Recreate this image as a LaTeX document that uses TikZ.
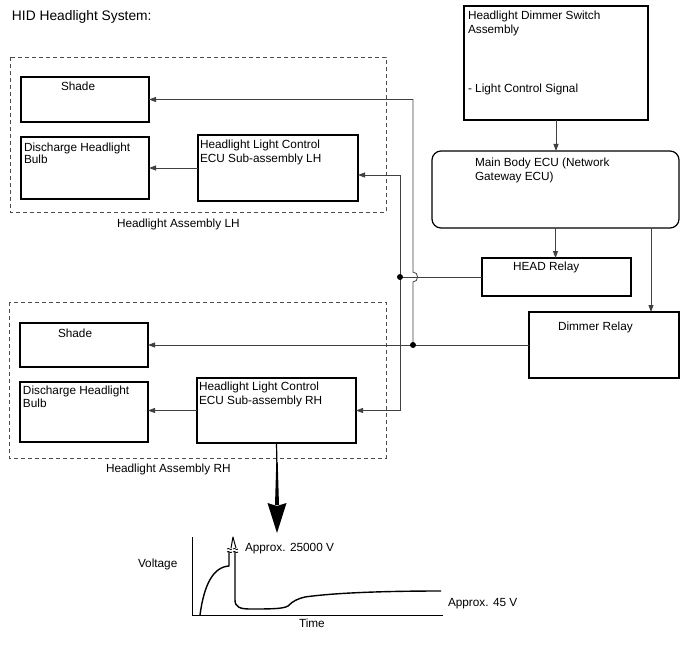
\documentclass[tikz,border=0pt]{standalone}
\usepackage{fontspec}
\setmainfont{Liberation Sans}
\usetikzlibrary{arrows.meta}
\begin{document}
\begin{tikzpicture}[x=1pt,y=-1pt,
 box/.style={draw=black, line width=1.2pt, rectangle, inner sep=0pt, outer sep=0pt, anchor=north west},
 txt/.style={inner sep=0pt, outer sep=0pt, anchor=base west, font=\fontsize{11.8}{13.5}\selectfont},
 wire/.style={draw=black!75, line width=0.8pt},
 arr/.style={wire, -{Triangle[length=7pt,width=5pt]}},
 grp/.style={draw=black!70, line width=0.8pt, dash pattern=on 4pt off 3pt},
 dot/.style={circle, fill=black, inner sep=0pt, minimum size=6pt},
 curve/.style={draw=black, line width=1.4pt, line join=round}]
\useasboundingbox (0,0) rectangle (688,658);

% title
\node[txt, font=\fontsize{13.8}{15}\selectfont] (title) at (12,20.7) {HID Headlight System:};

% group frames
\draw[grp] (10,57) rectangle (386,212);
\draw[grp] (9,302) rectangle (386,458);
\node[txt] (lhlab) at (117,227) {Headlight Assembly LH};
\node[txt] (rhlab) at (106,472) {Headlight Assembly RH};

% LH boxes
\node[box, minimum width=128pt, minimum height=45pt] (lhshade) at (21,77) {};
\node[txt] (lhshadet) at (61,91) {Shade};
\node[box, minimum width=128pt, minimum height=62pt] (lhbulb) at (21,137) {};
\node[txt] (lhbulbt1) at (24,151) {Discharge Headlight};
\node[txt] (lhbulbt2) at (24,164) {Bulb};
\node[box, minimum width=160pt, minimum height=66pt] (lhecu) at (198,135) {};
\node[txt] (lhecut1) at (200,149) {Headlight Light Control};
\node[txt] (lhecut2) at (200,163) {ECU Sub-assembly LH};

% RH boxes
\node[box, minimum width=128pt, minimum height=44pt] (rhshade) at (20,323) {};
\node[txt] (rhshadet) at (58,337) {Shade};
\node[box, minimum width=128pt, minimum height=60pt] (rhbulb) at (20,382) {};
\node[txt] (rhbulbt1) at (23,394) {Discharge Headlight};
\node[txt] (rhbulbt2) at (23,407) {Bulb};
\node[box, minimum width=159pt, minimum height=65pt] (rhecu) at (197,378) {};
\node[txt] (rhecut1) at (199,390) {Headlight Light Control};
\node[txt] (rhecut2) at (199,404) {ECU Sub-assembly RH};

% right side boxes
\node[box, minimum width=184pt, minimum height=114pt] (sw) at (464,6) {};
\node[txt] (swt1) at (468,20) {Headlight Dimmer Switch};
\node[txt] (swt2) at (468,34) {Assembly};
\node[txt] (swt3) at (468,93) {- Light Control Signal};
\node[box, rounded corners=9pt, minimum width=247pt, minimum height=77pt] (mecu) at (432,151) {};
\node[txt] (mecut1) at (475,166) {Main Body ECU (Network};
\node[txt] (mecut2) at (475,180) {Gateway ECU)};
\node[box, minimum width=149pt, minimum height=38pt] (head) at (482,258) {};
\node[txt] (headt) at (513,270) {HEAD Relay};
\node[box, minimum width=150pt, minimum height=66pt] (dim) at (529,312) {};
\node[txt] (dimt) at (558,330) {Dimmer Relay};

% connectors
\draw[arr] (sw.south) -- (sw.south |- mecu.north);
\draw[arr] (mecu.south) -- (mecu.south |- head.north);
\draw[arr] ([xshift=-28pt]mecu.south east) -- ([xshift=-28pt]dim.north east);
\draw[arr] (lhecu.west) -- (lhbulb.east |- lhecu.west);
\draw[arr] (rhecu.west) -- (rhbulb.east |- rhecu.west);

\coordinate (j1) at (400,277);
\coordinate (j2) at (413,345);
\draw[wire] (head.west) -- (j1 |- head.west);
\draw[arr] (j1) |- ([yshift=-7pt]lhecu.east);
\draw[arr] (j1) |- (rhecu.east);
\draw[arr] (dim.west) -- (rhshade.east);
\draw[arr] (j2) -- (413,282) .. controls (419,282) and (419,272) .. (413,272) -- (j2 |- lhshade.east) -- (lhshade.east);
\node[dot] (d1) at (j1) {};
\node[dot] (d2) at (j2) {};

% big arrow to graph
\coordinate (gtip) at (277,533);
\draw[line width=1.2pt] (rhecu.south) -- (277,470);
\fill (276.3,462) -- (277.7,462) -- (279,505) -- (275,505) -- cycle;
\fill (267.5,503) -- (277,506) -- (286.5,503) -- (gtip) -- cycle;

% graph
\coordinate (org) at (192,615);
\draw[line width=0.9pt] (192,537) -- (org) -- (443,615);
\node[txt] (volt) at (138,567) {Voltage};
\node[txt] (timet) at (299,627) {Time};
\node[txt] (hv) at (245,551) {Approx. 25000 V};
\node[txt] (lv) at (448,606) {Approx. 45 V};

\draw[curve] (200,615) .. controls (204,585) and (213,567) .. (229,566) -- (229,552);
\draw[curve] (235,552) -- (235,600) .. controls (235,607) and (240,609) .. (250,609)
  .. controls (270,609) and (283,609) .. (288,606)
  .. controls (293,601) and (297,599) .. (305,597)
  .. controls (340,592) and (400,591) .. (441,591);
% spike top and break marks
\draw[black, line width=1pt, line join=round] (231,548) .. controls (232,543) and (232.5,539) .. (233,537) .. controls (233.5,539) and (234.5,543) .. (236,548);
\draw[black, line width=0.8pt] (227,549) .. controls (229,547) and (230,551) .. (232,549);
\draw[black, line width=0.8pt] (233,549) .. controls (235,547) and (236,551) .. (238,549);
\draw[black, line width=0.8pt] (227,552) .. controls (229,550) and (230,554) .. (232,552);
\draw[black, line width=0.8pt] (233,552) .. controls (235,550) and (236,554) .. (238,552);
\end{tikzpicture}
\end{document}
